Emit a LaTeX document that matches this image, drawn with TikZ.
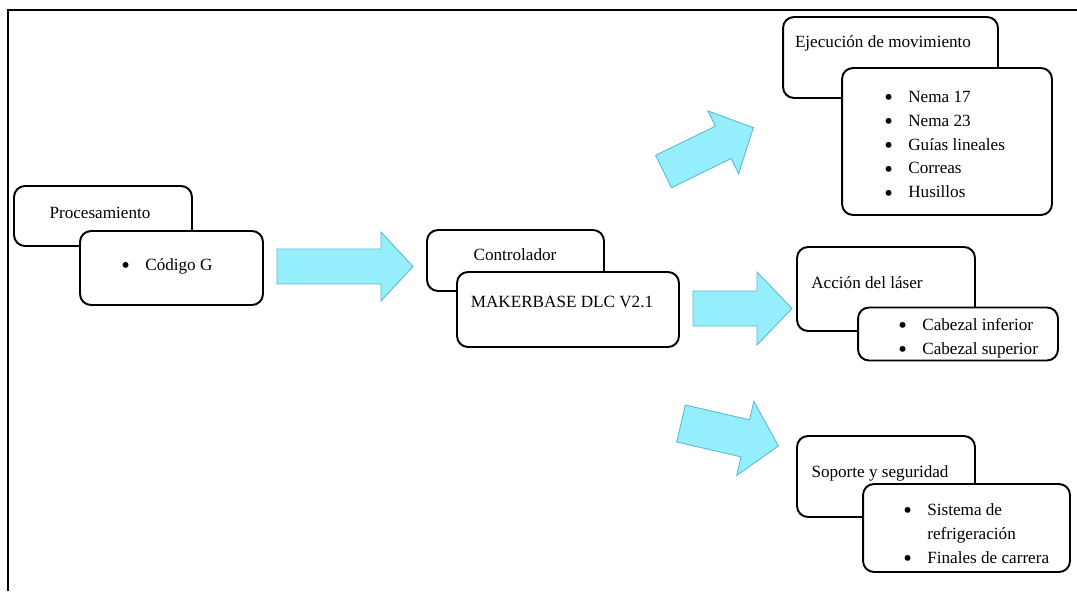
\documentclass[tikz,border=0pt]{standalone}
\usepackage{fontspec}
\setmainfont{Liberation Serif}
\definecolor{aguaclaro}{RGB}{148,238,252}
\definecolor{aguaborde}{RGB}{90,185,212}
\newcommand{\bala}{\makebox[0.48cm][l]{\raisebox{-0.4ex}{\fontsize{14}{14}\selectfont\textbullet}}}
\tikzset{
  caja/.style={draw, line width=1.1pt, rounded corners=0.22cm, fill=white, inner sep=0pt},
  texto/.style={font=\fontsize{9.75}{13.6}\selectfont, inner sep=0pt, align=left},
  relleno/.style={draw=aguaborde, fill=aguaclaro, line width=0.5pt},
  pics/flecha/.style args={#1/#2/#3/#4}{code={
      \begin{scope}[x=1cm,y=1cm]
        \draw[relleno] (0,-#2) -- (#1-#4,-#2) -- (#1-#4,-#3) -- (#1,0)
          -- (#1-#4,#3) -- (#1-#4,#2) -- (0,#2) -- cycle;
      \end{scope}}}
}
\begin{document}
\begin{tikzpicture}[x=0.02cm, y=-0.02cm]
	\useasboundingbox (0,0) rectangle (1077,591);
	% marco
	\draw[line width=1.1pt] (8,591) -- (8,10) -- (1077,10);

	% procesamiento
	\node[caja, minimum width=3.56cm, minimum height=1.2cm] (proc) at (103,216) {};
	\node[caja, minimum width=3.66cm, minimum height=1.48cm] (codigo) at (171.5,268) {};
	\node[texto] (t-proc) at (100,213) {Procesamiento};
	\node[texto, anchor=west] (t-codigo) at (121,266) {\bala Código G};

	% controlador
	\node[caja, minimum width=3.54cm, minimum height=1.22cm] (ctrl) at (515.5,260.5) {};
	\node[caja, minimum width=4.44cm, minimum height=1.5cm] (mkb) at (568,309.5) {};
	\node[texto] (t-ctrl) at (515,255) {Controlador};
	\node[texto] (t-mkb) at (562,302) {MAKERBASE DLC V2.1};

	% movimiento
	\node[caja, minimum width=4.3cm, minimum height=1.62cm] (ejec) at (890.5,57.5) {};
	\node[caja, minimum width=4.2cm, minimum height=2.94cm] (nema) at (947,141.5) {};
	\node[texto] (t-ejec) at (883,43) {Ejecución de movimiento};
	\node[texto, anchor=west] (t-nema) at (884,146)
		{\bala Nema 17\\\bala Nema 23\\\bala Guías lineales\\\bala Correas\\\bala Husillos};

	% laser
	\node[caja, minimum width=3.56cm, minimum height=1.68cm] (accion) at (886,289) {};
	\node[caja, minimum width=4.0cm, minimum height=1.06cm] (cabezal) at (958,334) {};
	\node[texto] (t-accion) at (867,283) {Acción del láser};
	\node[texto, anchor=west] (t-cabezal) at (898,338) {\bala Cabezal inferior\\\bala Cabezal superior};

	% soporte
	\node[caja, minimum width=3.56cm, minimum height=1.62cm] (soporte) at (886,476.5) {};
	\node[caja, minimum width=4.14cm, minimum height=1.76cm] (sistema) at (966.5,528) {};
	\node[texto] (t-soporte) at (880,473) {Soporte y seguridad};
	\node[texto, anchor=west] (t-sistema) at (903,535)
		{\bala Sistema de\\\hspace*{0.48cm}refrigeración\\\bala Finales de carrera};

	% flechas
	\pic at (277,266.5) {flecha=2.72/0.35/0.69/0.64};
	\pic at (693,308.5) {flecha=1.98/0.35/0.73/0.7};
	\pic[rotate=26] at (663.5,171.5) {flecha=2.0/0.36/0.7/0.67};
	\pic[rotate=-13] at (681,423.5) {flecha=2.0/0.38/0.76/0.68};
\end{tikzpicture}
\end{document}
